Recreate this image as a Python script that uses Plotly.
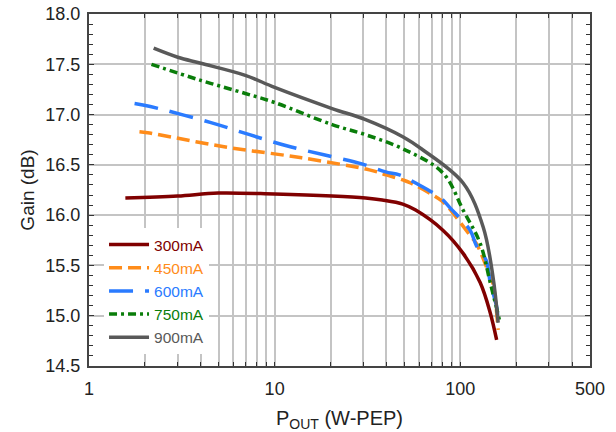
import plotly.graph_objects as go

# Data (Pout in W-PEP, Gain in dB)
x_300 = [1.57, 3.0, 4.96, 10, 20.4, 30.9, 38, 49, 57.5, 80.6, 103.6, 128, 145, 157]
y_300 = [16.17, 16.19, 16.22, 16.21, 16.19, 16.17, 16.15, 16.11, 16.05, 15.85, 15.62, 15.33, 15.03, 14.76]

x_450 = [1.87, 2.07, 5.34, 14.0, 32.4, 40, 49, 54, 78.5, 86, 115, 122, 145, 150, 160]
y_450 = [16.83, 16.82, 16.68, 16.57, 16.45, 16.40, 16.35, 16.32, 16.15, 16.08, 15.78, 15.72, 15.39, 15.32, 14.86]

x_600 = [1.76, 2.14, 4.54, 7.33, 11.6, 18.4, 29.5, 39.6, 47, 57.5, 78.5, 88.4, 113, 122, 138, 145, 157, 160]
y_600 = [17.11, 17.08, 16.92, 16.80, 16.69, 16.60, 16.51, 16.43, 16.40, 16.32, 16.17, 16.07, 15.85, 15.70, 15.55, 15.33, 15.09, 14.95]

x_750 = [2.17, 4.0, 6.95, 10, 20.4, 30.9, 49, 80.6, 103.6, 128, 145, 164]
y_750 = [17.50, 17.34, 17.21, 17.12, 16.90, 16.80, 16.66, 16.42, 16.05, 15.72, 15.33, 14.93]

x_900 = [2.23, 3.01, 4.0, 6.95, 10, 20.4, 30.9, 49, 61.7, 103.6, 133, 150, 160]
y_900 = [17.66, 17.57, 17.51, 17.39, 17.27, 17.06, 16.95, 16.78, 16.66, 16.32, 15.88, 15.39, 14.93]

series_names = ["300mA", "450mA", "600mA", "750mA", "900mA"]
series_colors = ["#800000", "#ff8c1a", "#2a7bff", "#0a7d0a", "#595959"]
series_dash = ["solid", "13px,6px", "24px,12px", "8px,4px,3px,4px", "solid"]

x_major = [1, 10, 100, 500]
x_minor = [2, 3, 4, 5, 6, 7, 8, 9, 20, 30, 40, 50, 60, 70, 80, 90, 200, 300, 400]

xs = [x_300, x_450, x_600, x_750, x_900]
ys = [y_300, y_450, y_600, y_750, y_900]

fig = go.Figure()
for name, color, dash, x, y in zip(series_names, series_colors, series_dash, xs, ys):
    fig.add_trace(go.Scatter(
        x=x, y=y, mode="lines", line_shape="spline",
        name=f"<span style='color:{color}'>{name}</span>",
        line=dict(color=color, width=3.5, dash=dash),
    ))

font = "Liberation Sans, Arial, sans-serif"
fig.update_layout(
    width=616, height=432,
    margin=dict(l=89, r=26, t=14, b=66, autoexpand=False),
    paper_bgcolor="white", plot_bgcolor="white",
    font=dict(family=font, size=18, color="#222222"),
    showlegend=True,
    legend=dict(
        x=0.03, y=0.034, xanchor="left", yanchor="bottom",
        bgcolor="white", borderwidth=0,
        font=dict(family=font, size=15.5),
        tracegroupgap=0, itemwidth=40,
    ),
    xaxis=dict(
        type="log", range=[0, 2.69897], automargin=False,
        tickmode="array", tickvals=x_major, ticktext=[str(v) for v in x_major],
        tickfont=dict(size=18), ticklabelstandoff=5,
        showgrid=True, gridcolor="#c4c4c4", gridwidth=1.5,
        ticks="inside", ticklen=4, tickcolor="#333", tickwidth=1,
        minor=dict(tickmode="array", tickvals=x_minor, ticks="inside", ticklen=4,
                   tickcolor="#333", showgrid=True, gridcolor="#c4c4c4", gridwidth=1.5),
        showline=True, linecolor="#444", linewidth=2, mirror="allticks",
        title=dict(text="P<sub>OUT</sub> (W-PEP)", font=dict(size=20), standoff=14),
        zeroline=False,
    ),
    yaxis=dict(
        range=[14.5, 18.0], dtick=0.5, tick0=14.5, tickformat=".1f", automargin=False,
        tickfont=dict(size=18), ticklabelstandoff=3,
        showgrid=True, gridcolor="#c4c4c4", gridwidth=1.5,
        ticks="inside", ticklen=5, tickcolor="#333", tickwidth=1,
        minor=dict(dtick=0.1, ticks="inside", ticklen=4, tickcolor="#333", showgrid=False),
        showline=True, linecolor="#444", linewidth=2, mirror="allticks",
        title=dict(text="Gain (dB)", font=dict(size=19), standoff=6),
        zeroline=False,
    ),
)

fig.write_html("out.html", config={"displayModeBar": False},
               post_script="document.body.style.margin='0px';")
